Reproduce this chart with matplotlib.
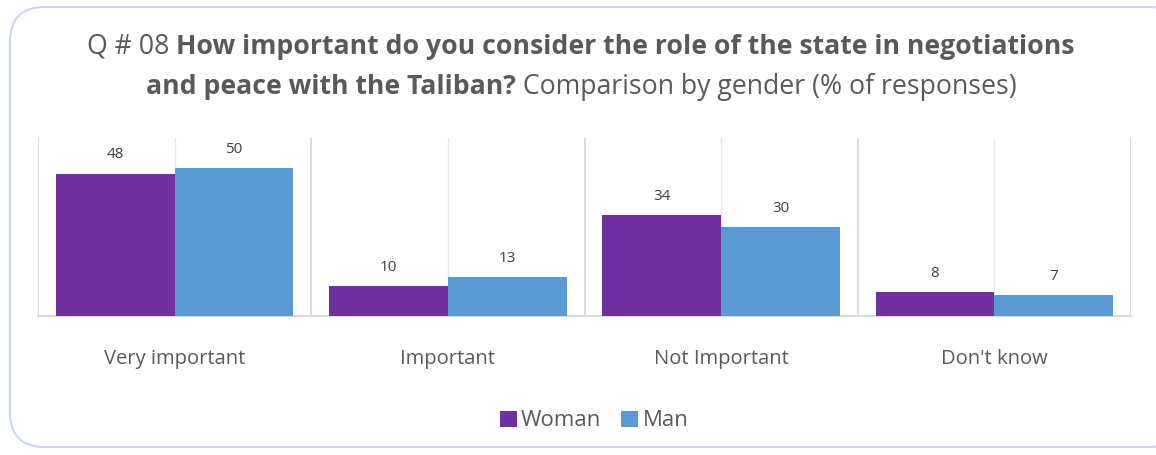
import numpy as np
import matplotlib.pyplot as plt
from matplotlib.patches import FancyBboxPatch

# Data
categories = ["Very important", "Important", "Not Important", "Don't know"]
woman = [48, 10, 34, 8]
man = [50, 13, 30, 7]
series_names = ["Woman", "Man"]
colors = ["#7030A0", "#5B9BD5"]

text_color = "#595959"
font = "Open Sans"

W, H = 1156, 455
fig = plt.figure(figsize=(W / 100, H / 100), dpi=100)

# rounded frame
frame = FancyBboxPatch((10 / W, 8 / H), 1175 / W, 440 / H,
                       boxstyle="round,pad=0,rounding_size=0.03",
                       transform=fig.transFigure, facecolor="white",
                       edgecolor="#C9D6EE", linewidth=1.5, mutation_aspect=W / H,
                       zorder=-10)
fig.patches.append(frame)

ax = fig.add_axes([38 / W, 1 - 316 / H, (1131 - 38) / W, (316 - 138) / H])
ax.patch.set_alpha(0)
x = np.arange(len(categories))
bw = 0.435
b1 = ax.bar(x - bw / 2, woman, bw, color=colors[0], label=series_names[0], zorder=3)
b2 = ax.bar(x + bw / 2, man, bw, color=colors[1], label=series_names[1], zorder=3)

ax.set_xlim(-0.5, len(categories) - 0.5)
ax.set_ylim(0, 60)
ax.set_yticks([])
ax.set_xticks(x)
ax.set_xticklabels(categories, fontsize=14.5, color=text_color, family=font)
ax.tick_params(axis="x", length=0, pad=24)
for s in ["top", "right", "left"]:
    ax.spines[s].set_visible(False)
ax.spines["bottom"].set_color("#D9D9D9")
ax.spines["bottom"].set_linewidth(1.5)

# vertical gridlines
for b in np.arange(-0.5, len(categories), 1.0):
    ax.axvline(b, color="#D9D9D9", lw=1.3, zorder=1)
for c in x:
    ax.axvline(c, color="#E8E8E8", lw=1.0, zorder=1)

for bars in (b1, b2):
    ax.bar_label(bars, padding=8, fontsize=11, color="#404040", family=font)

leg = fig.legend(loc="center", bbox_to_anchor=(0.514, 1 - 421 / H), ncol=2,
                 frameon=False, handlelength=0.75, handleheight=0.75,
                 handletextpad=0.2, columnspacing=0.9,
                 prop={"family": font, "size": 16})
for t in leg.get_texts():
    t.set_color(text_color)

# title with mixed weights, centered per line
lines = [
    [("Q # 08 ", "normal"), ("How important do you consider the role of the state in negotiations", "bold")],
    [("and peace with the Taliban?", "bold"), (" Comparison by gender (% of responses)", "normal")],
]
ys = [47, 87]
fs = 19.2
renderer = fig.canvas.get_renderer()
for parts, yy in zip(lines, ys):
    texts = []
    for s, wgt in parts:
        t = fig.text(0, 1 - yy / H, s, fontsize=fs, fontweight=wgt, family=font,
                     color=text_color, va="center", ha="left")
        texts.append(t)
    widths = [t.get_window_extent(renderer).width for t in texts]
    total = sum(widths)
    start = (581 - total / 2)
    for t, w in zip(texts, widths):
        t.set_x(start / W)
        start += w

fig.savefig("out.png", dpi=100)
